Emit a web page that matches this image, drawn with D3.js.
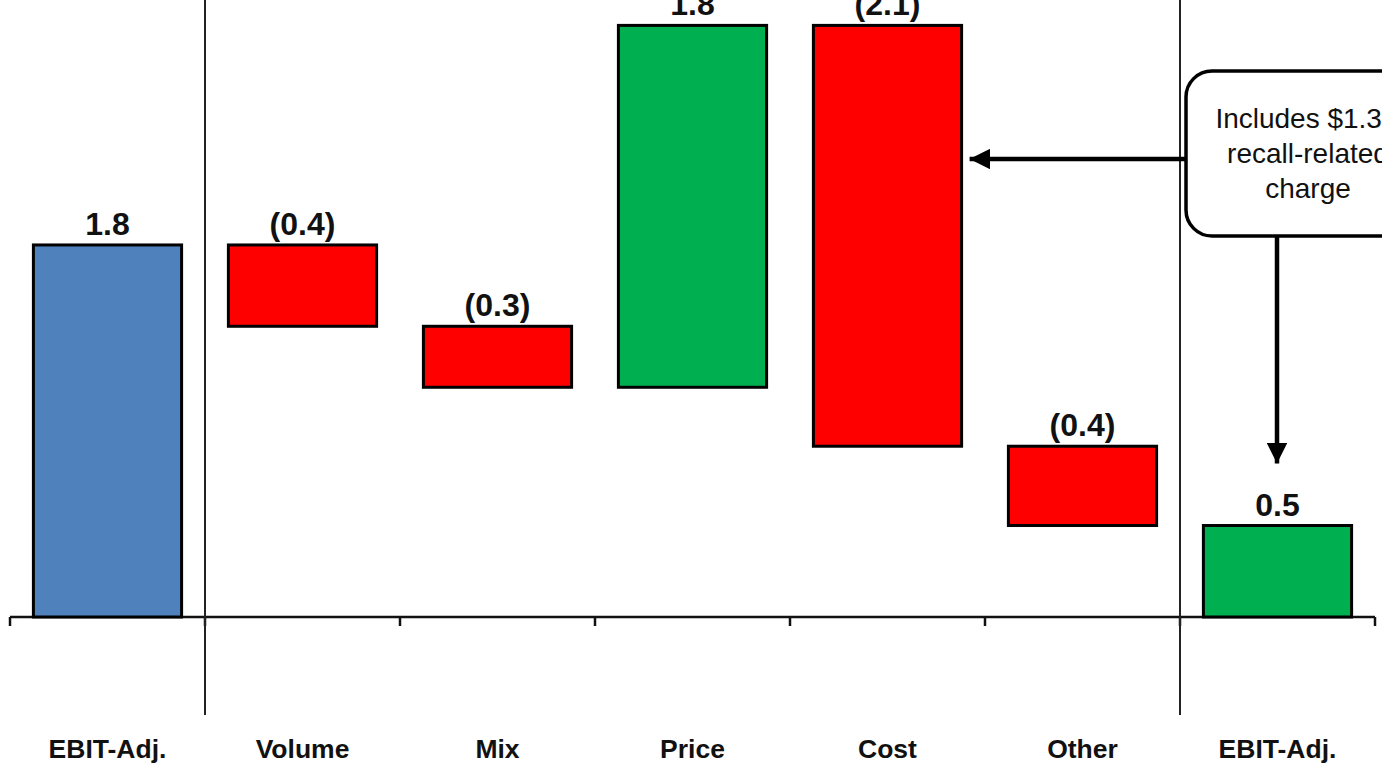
<!DOCTYPE html>
<html>
<head>
<meta charset="utf-8">
<script src="https://cdn.jsdelivr.net/npm/d3@7"></script>
<style>
  html, body { margin: 0; padding: 0; background: #fff; }
  svg { display: block; }
</style>
</head>
<body>
<svg id="chart" width="1382" height="776"></svg>
<script>
// EBIT-Adj. bridge: starting level, drivers, ending level (billions)
const categories = ["EBIT-Adj.", "Volume", "Mix", "Price", "Cost", "Other", "EBIT-Adj. "];
const startValue = 1.83;
const driverValues = [-0.40, -0.30, 1.78, -2.07, -0.39];
const annotationLines = ["Includes $1.3B", "recall-related", "charge"];

const colors = { total: "#4F81BD", up: "#00B050", down: "#FF0000", end: "#00B050" };

// Build floating segments from the running total (kept to cents)
const segments = [];
let running = startValue;
segments.push({ cat: categories[0], y0: 0, y1: startValue, value: startValue, kind: "total" });
driverValues.forEach((v, i) => {
  const from = running;
  running = Math.round((running + v) * 100) / 100;
  segments.push({ cat: categories[i + 1], y0: from, y1: running, value: v, kind: v >= 0 ? "up" : "down" });
});
segments.push({ cat: categories[categories.length - 1], y0: 0, y1: running, value: running, kind: "end" });

const svg = d3.select("#chart");
const baseY = 617;
const pxPerUnit = 203.3;

const x = d3.scaleBand().domain(categories).range([10, 1375]).paddingInner(0.24).paddingOuter(0.12);
const y = d3.scaleLinear().domain([0, 3]).range([baseY, baseY - 3 * pxPerUnit]);

const fmt = d3.format(".1f");
const label = v => v < 0 ? "(" + fmt(-v) + ")" : fmt(v);

// Category axis along the zero line, ticks on band boundaries
const step = x.step();
const tickXs = d3.range(categories.length + 1).map(i => 10 + i * step);
svg.append("line")
  .attr("x1", 10).attr("x2", 1375).attr("y1", baseY).attr("y2", baseY)
  .attr("stroke", "#111").attr("stroke-width", 2.5);
svg.selectAll("line.tick").data(tickXs).join("line")
  .attr("class", "tick")
  .attr("x1", d => d).attr("x2", d => d)
  .attr("y1", baseY).attr("y2", baseY + 9)
  .attr("stroke", "#111").attr("stroke-width", 2.5);

// Separators between opening/closing levels and the drivers
[tickXs[1], tickXs[6]].forEach(sx => {
  svg.append("line")
    .attr("x1", sx).attr("x2", sx).attr("y1", 0).attr("y2", 715)
    .attr("stroke", "#222").attr("stroke-width", 2);
});

// Bars
svg.selectAll("rect.bar").data(segments).join("rect")
  .attr("class", "bar")
  .attr("x", d => x(d.cat))
  .attr("width", x.bandwidth())
  .attr("y", d => y(Math.max(d.y0, d.y1)))
  .attr("height", d => Math.abs(y(d.y0) - y(d.y1)))
  .attr("fill", d => colors[d.kind])
  .attr("stroke", "#000").attr("stroke-width", 3);

// Value labels above each bar
svg.selectAll("text.val").data(segments).join("text")
  .attr("class", "val")
  .attr("x", d => x(d.cat) + x.bandwidth() / 2)
  .attr("y", d => y(Math.max(d.y0, d.y1)) - 10)
  .attr("text-anchor", "middle")
  .attr("font-family", "Liberation Sans, Arial, sans-serif")
  .attr("font-weight", "bold")
  .attr("font-size", 32)
  .attr("fill", "#111")
  .text(d => label(d.value));

// Category labels
svg.selectAll("text.cat").data(categories).join("text")
  .attr("class", "cat")
  .attr("x", d => x(d) + x.bandwidth() / 2)
  .attr("y", 758)
  .attr("text-anchor", "middle")
  .attr("font-family", "Liberation Sans, Arial, sans-serif")
  .attr("font-weight", "bold")
  .attr("font-size", 26.5)
  .attr("fill", "#111")
  .text(d => d.trim());

// Callout box with arrows pointing to the Cost bar and the closing level
const defs = svg.append("defs");
defs.append("marker")
  .attr("id", "head")
  .attr("viewBox", "0 0 10 10")
  .attr("refX", 10).attr("refY", 5)
  .attr("markerWidth", 4.6).attr("markerHeight", 4.6)
  .attr("markerUnits", "strokeWidth")
  .attr("orient", "auto")
  .append("path").attr("d", "M0,0 L10,5 L0,10 Z").attr("fill", "#000");

const boxX = 1186, boxY = 71, boxW = 244, boxH = 165;
const costBar = segments[4];
const endBar = segments[6];

svg.append("line")
  .attr("x1", boxX).attr("y1", 159)
  .attr("x2", x(costBar.cat) + x.bandwidth() + 8).attr("y2", 159)
  .attr("stroke", "#000").attr("stroke-width", 4.5)
  .attr("marker-end", "url(#head)");

svg.append("line")
  .attr("x1", 1277).attr("y1", boxY + boxH)
  .attr("x2", 1277).attr("y2", y(endBar.y1) - 62)
  .attr("stroke", "#000").attr("stroke-width", 4.5)
  .attr("marker-end", "url(#head)");

svg.append("rect")
  .attr("x", boxX).attr("y", boxY).attr("width", boxW).attr("height", boxH)
  .attr("rx", 26).attr("ry", 26)
  .attr("fill", "#fff").attr("stroke", "#000").attr("stroke-width", 3.5);

svg.append("text")
  .attr("x", boxX + boxW / 2).attr("y", 128)
  .attr("text-anchor", "middle")
  .attr("font-family", "Liberation Sans, Arial, sans-serif")
  .attr("font-size", 28)
  .attr("fill", "#111")
  .selectAll("tspan").data(annotationLines).join("tspan")
  .attr("x", boxX + boxW / 2)
  .attr("dy", (d, i) => i === 0 ? 0 : 35)
  .text(d => d);
</script>
</body>
</html>
